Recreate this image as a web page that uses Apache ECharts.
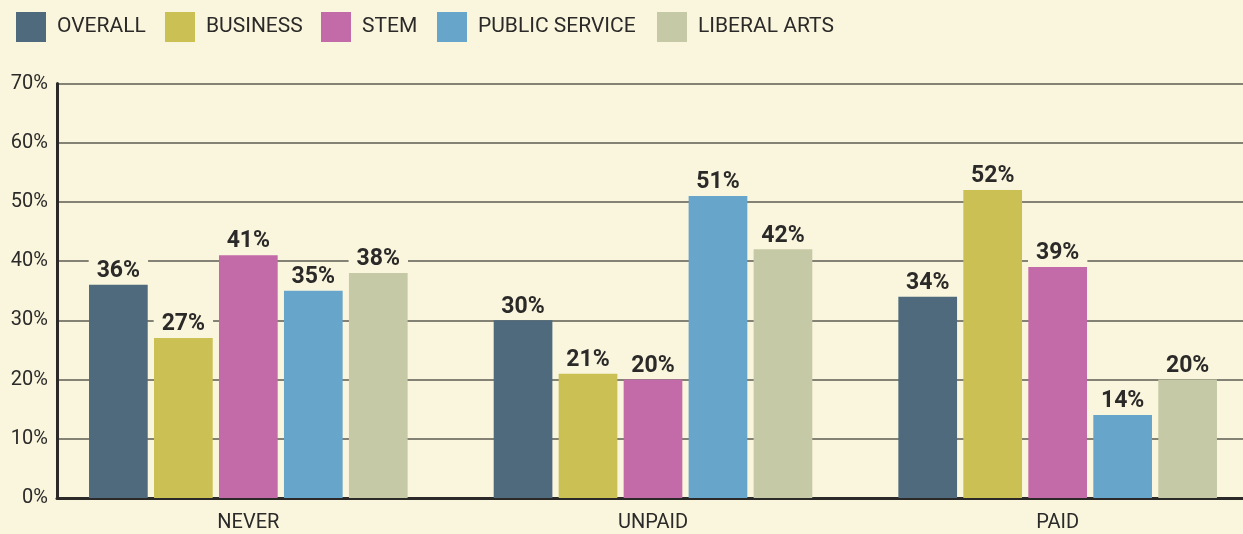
<!DOCTYPE html>
<html>
<head>
<meta charset="utf-8">
<style>
  html, body { margin: 0; padding: 0; background: #faf6de; }
  #chart { width: 1243px; height: 534px; }
</style>
<script src="https://cdn.jsdelivr.net/npm/echarts@6.0.0/dist/echarts.min.js"></script>
</head>
<body>
<div id="chart"></div>
<script>
// 数据
const categories = ["NEVER", "UNPAID", "PAID"];
const overall = [36, 30, 34];
const business = [27, 21, 52];
const stem = [41, 20, 39];
const publicService = [35, 51, 14];
const liberalArts = [38, 42, 20];
const yTicks = [0, 10, 20, 30, 40, 50, 60, 70];

const SERIES = [
  { name: "OVERALL", data: overall, color: "#4e6a7c", legendLeft: 16 },
  { name: "BUSINESS", data: business, color: "#cbc054", legendLeft: 165 },
  { name: "STEM", data: stem, color: "#c36aa8", legendLeft: 321 },
  { name: "PUBLIC SERVICE", data: publicService, color: "#67a5ca", legendLeft: 437 },
  { name: "LIBERAL ARTS", data: liberalArts, color: "#c6c9a6", legendLeft: 657 },
];
const BG = "#faf6de";
const INK = "#2b2a28";
const FONT = "Roboto, 'DejaVu Sans', sans-serif";

const chart = echarts.init(document.getElementById("chart"));

const legends = SERIES.map(s => ({
  data: [s.name], left: s.legendLeft, top: 12, padding: 0,
  icon: "rect", itemWidth: 30, itemHeight: 30,
  textStyle: { color: INK, fontSize: 21, fontFamily: FONT, padding: [0, 0, 0, 6] },
}));

const series = SERIES.map(s => ({
  name: s.name, type: "bar", data: s.data,
  xAxisIndex: 1, yAxisIndex: 1,
  barWidth: 58.7, barGap: "10.7%",
  itemStyle: { color: s.color },
  label: {
    show: true, position: "top", distance: 2,
    formatter: "{c}%", color: INK, fontSize: 23, fontWeight: "bold", fontFamily: FONT,
    backgroundColor: BG, padding: [1, 8, 0, 8],
  },
}));

chart.setOption({
  backgroundColor: BG,
  animation: false,
  legend: legends,
  grid: [
    // 轴线与网格线
    { left: 57, right: 0, top: 83.5, bottom: 36, outerBoundsMode: "none" },
    // 柱子（组宽 405，向两侧略超出绘图区）
    { left: 46, width: 1214, top: 83.5, bottom: 36, outerBoundsMode: "none" },
  ],
  xAxis: [
    {
      gridIndex: 0, type: "category", data: categories,
      axisLine: { show: true, lineStyle: { color: INK, width: 3 } },
      axisTick: { show: false }, axisLabel: { show: false },
    },
    {
      gridIndex: 1, type: "category", data: categories,
      axisLine: { show: false }, axisTick: { show: false },
      axisLabel: { color: INK, fontSize: 20, fontFamily: FONT, margin: 15 },
    },
  ],
  yAxis: [
    {
      gridIndex: 0, type: "value", min: yTicks[0], max: yTicks[yTicks.length - 1], interval: 10,
      axisLine: { show: true, lineStyle: { color: INK, width: 3 } },
      axisTick: { show: false },
      axisLabel: { color: INK, fontSize: 20, fontFamily: FONT, margin: 9, formatter: "{value}%" },
      splitLine: { lineStyle: { color: "#5c5a52", width: 1.5 } },
    },
    {
      gridIndex: 1, type: "value", min: yTicks[0], max: yTicks[yTicks.length - 1],
      show: false,
    },
  ],
  series: series,
});
</script>
</body>
</html>
